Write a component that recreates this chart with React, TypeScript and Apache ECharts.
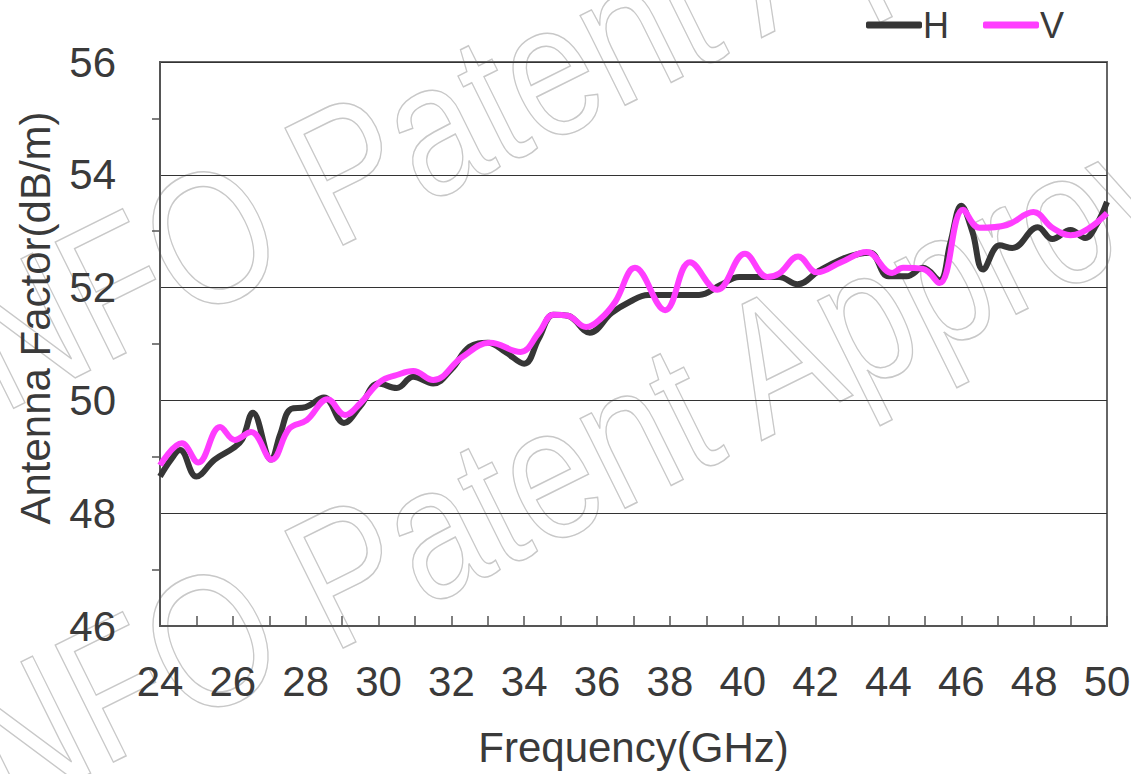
import React, { useEffect, useRef } from "react";
import * as echarts from "echarts";

const freqH = [24.0, 24.3, 24.55, 25.0, 25.5, 26.0, 26.25, 26.55, 27.05, 27.3, 27.6, 28.0, 28.5, 29.05, 29.5, 30.0, 30.5, 30.95, 31.5, 32.0, 32.5, 33.0, 33.5, 34.0, 34.4, 34.8, 35.2, 35.8, 36.4, 36.9, 37.4, 38.0, 38.8, 39.4, 39.9, 40.6, 41.0, 41.5, 42.1, 42.7, 43.2, 43.5, 44.0, 44.5, 44.95, 45.4, 45.7, 46.0, 46.3, 46.6, 47.05, 47.4, 48.1, 48.5, 49.0, 49.4, 49.7, 50.0];
const valuesH = [48.65, 48.95, 49.12, 48.65, 48.95, 49.15, 49.3, 49.78, 48.95, 49.4, 49.85, 49.88, 50.05, 49.6, 49.9, 50.3, 50.22, 50.42, 50.3, 50.55, 50.95, 51.02, 50.85, 50.65, 51.1, 51.52, 51.5, 51.2, 51.55, 51.75, 51.87, 51.87, 51.87, 52.05, 52.19, 52.19, 52.19, 52.06, 52.3, 52.5, 52.6, 52.62, 52.2, 52.2, 52.35, 52.13, 52.8, 53.45, 53.0, 52.32, 52.75, 52.7, 53.07, 52.86, 53.02, 52.88, 53.1, 53.52];

const freqV = [24.0, 24.6, 25.05, 25.65, 26.05, 26.5, 27.07, 27.55, 28.03, 28.6, 29.08, 29.5, 30.04, 30.5, 30.95, 31.5, 32.3, 33.06, 33.9, 34.4, 34.8, 35.2, 35.7, 36.1, 36.5, 37.04, 37.87, 38.55, 39.3, 40.06, 40.67, 41.0, 41.52, 42.04, 42.7, 43.4, 44.1, 44.4, 44.95, 45.4, 46.05, 46.5, 47.25, 47.98, 48.5, 49.0, 49.5, 50.0];
const valuesV = [48.85, 49.24, 48.9, 49.53, 49.3, 49.44, 48.95, 49.5, 49.65, 50.02, 49.74, 49.95, 50.33, 50.45, 50.52, 50.36, 50.77, 51.02, 50.86, 51.2, 51.52, 51.5, 51.3, 51.45, 51.75, 52.35, 51.6, 52.45, 51.96, 52.6, 52.19, 52.25, 52.55, 52.27, 52.45, 52.63, 52.26, 52.35, 52.33, 52.08, 53.38, 53.06, 53.11, 53.34, 53.06, 52.93, 53.05, 53.32];

const seriesNames = ["H", "V"];
const xAxisTitle = "Frequency(GHz)";
const yAxisTitle = "Antenna Factor(dB/m)";
const watermark = "NFO Patent Approved";

const FONT = "'Liberation Sans', Arial, sans-serif";
const TEXT = "#3a3a3a";

export default function App() {
  const ref = useRef<HTMLDivElement>(null);
  useEffect(() => {
    document.body.style.margin = "0";
    const chart = echarts.init(ref.current!, null, { renderer: "svg" });
    const dataH = freqH.map((f, i) => [f, valuesH[i]]);
    const dataV = freqV.map((f, i) => [f, valuesV[i]]);
    const wm = (x: number, y: number) => ({
      type: "text",
      x,
      y,
      rotation: 0.46,
      scaleX: 0.81,
      scaleY: 1,
      z: -10,
      silent: true,
      style: {
        text: watermark,
        font: `190px ${FONT}`,
        fill: "transparent",
        stroke: "#c8c8c8",
        lineWidth: 1.5,
        textVerticalAlign: "middle",
      },
    });
    chart.setOption({
      animation: false,
      backgroundColor: "#ffffff",
      textStyle: { fontFamily: FONT },
      grid: {
        left: 160,
        right: 24,
        top: 62,
        bottom: 148,
        outerBoundsMode: "none",
        containLabel: false,
        show: true,
        borderColor: "#666",
        borderWidth: 2,
        backgroundColor: "transparent",
      },
      legend: {
        top: 2,
        right: 62,
        itemWidth: 56,
        itemHeight: 7,
        itemGap: 34,
        icon: "roundRect",
        textStyle: { fontSize: 36, color: TEXT, fontFamily: FONT, padding: [0, 0, 0, -4] },
        data: seriesNames,
      },
      graphic: [
        {
          type: "text",
          x: 35,
          y: 318,
          rotation: Math.PI / 2,
          z: 10,
          style: {
            text: yAxisTitle,
            font: `42px ${FONT}`,
            fill: TEXT,
            textAlign: "center",
            textVerticalAlign: "middle",
          },
        },
        wm(-27, 355),
        wm(-27, 758),
      ],
      xAxis: {
        type: "value",
        min: 24,
        max: 50,
        interval: 2,
        name: xAxisTitle,
        nameLocation: "middle",
        nameGap: 100,
        nameTextStyle: { fontSize: 42, color: TEXT, fontFamily: FONT },
        axisLine: { show: true, lineStyle: { color: "#555", width: 2 } },
        axisTick: { show: true, inside: true, length: 10, lineStyle: { color: "#555", width: 1.5 } },
        minorTick: { show: true, splitNumber: 2, length: 10, lineStyle: { color: "#555", width: 1.5 } },
        axisLabel: { fontSize: 42, color: TEXT, margin: 34, fontFamily: FONT },
        splitLine: { show: false },
      },
      yAxis: {
        type: "value",
        min: 46,
        max: 56,
        interval: 2,
        axisLine: { show: true, lineStyle: { color: "#555", width: 2 } },
        axisTick: { show: false },
        minorTick: { show: true, splitNumber: 2, length: 8, lineStyle: { color: "#555", width: 1.5 } },
        axisLabel: { fontSize: 42, color: TEXT, margin: 44, fontFamily: FONT },
        splitLine: { show: true, lineStyle: { color: "#333", width: 1.2 } },
      },
      series: [
        {
          name: seriesNames[0],
          type: "line",
          data: dataH,
          smooth: 0.4,
          symbol: "none",
          z: 3,
          itemStyle: { color: "#363636" },
          lineStyle: { color: "#363636", width: 6 },
        },
        {
          name: seriesNames[1],
          type: "line",
          data: dataV,
          smooth: 0.4,
          symbol: "none",
          z: 4,
          itemStyle: { color: "#ff3dff" },
          lineStyle: { color: "#ff3dff", width: 6 },
        },
      ],
    });
    return () => chart.dispose();
  }, []);
  return <div ref={ref} style={{ position: "absolute", left: 0, top: 0, width: 1131, height: 774 }} />;
}
